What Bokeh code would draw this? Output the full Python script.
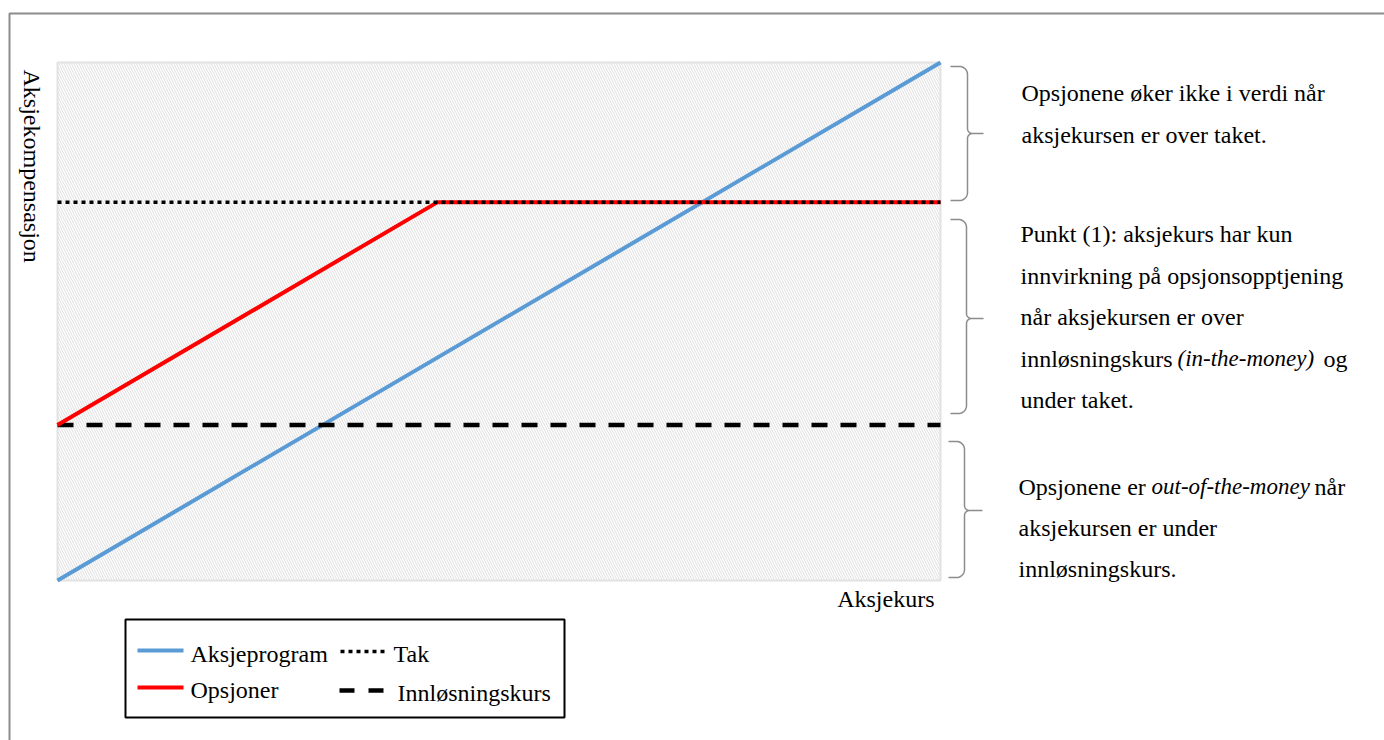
import math
import numpy as np
from bokeh.plotting import figure
from bokeh.models import Range1d
from bokeh.core.properties import value
from bokeh.embed import file_html
from bokeh.resources import INLINE

# ---------------- data ----------------
aksjekurs = [0, 100]
aksjeprogram = [0, 100]
opsjoner_kurs = [0, 43, 100]
opsjoner = [30, 73, 73]
tak = [73, 73]
innlosningskurs = [30, 30]

series_labels = ["Aksjeprogram", "Opsjoner", "Tak", "Innløsningskurs"]
x_label = "Aksjekurs"
y_label = "Aksjekompensasjon"

# ---------------- layout helpers (pixel -> data) ----------------
W, H = 1384, 740
PL, PR, PT, PB = 57, 940, 62, 580
SX = (PR - PL) / 100.0
SY = (PB - PT) / 100.0


def dx(px):
    return (px - PL) / SX


def dy(py):
    return (PB - py) / SY


SERIF = value("Liberation Serif")
FS_NOTE = value("24px")
FS_IT = value("23px")
FS_LAB = value("24px")

p = figure(width=W, height=H,
           x_range=Range1d(dx(0), dx(W)), y_range=Range1d(dy(H), dy(0)),
           x_axis_location=None, y_axis_location=None,
           toolbar_location=None, output_backend="svg",
           min_border=0, outline_line_color=None,
           background_fill_color="white", border_fill_color="white")
p.xgrid.visible = False
p.ygrid.visible = False

# outer frame
p.quad(left=[dx(9)], right=[dx(W + 20)], top=[dy(13)], bottom=[dy(H + 20)],
       fill_color=None, line_color="#8c8c8c", line_width=2)

# plot area with hatch
p.quad(left=[0], right=[100], bottom=[0], top=[100],
       fill_color="white", hatch_pattern="\\", hatch_color="#dedede",
       hatch_scale=5, hatch_weight=1, line_color="#e2e2e2", line_width=2)

# series
p.line(aksjekurs, aksjeprogram, line_color="#5b9bd5", line_width=4)
p.line(aksjekurs, innlosningskurs, line_color="black", line_width=4.5, line_dash="16 13")
p.line(opsjoner_kurs, opsjoner, line_color="#ff0000", line_width=4)
p.line(aksjekurs, tak, line_color="black", line_width=3.5, line_dash="4 4")


# braces
def brace(top, bottom, tip, xe, xm, xt, r=8, rt=5):
    t = np.linspace(0, math.pi / 2, 12)
    pts = [(xe, top)]
    pts += [(xm - r + r * math.sin(a), top + r * (1 - math.cos(a))) for a in t]
    pts += [(xm + rt * (1 - math.cos(a)), tip - rt + rt * math.sin(a)) for a in t]
    pts += [(xt, tip), (xm + rt, tip)]
    pts += [(xm + rt * (1 - math.cos(a)), tip + rt - rt * math.sin(a)) for a in t[::-1]]
    pts += [(xm - r + r * math.sin(a), bottom - r * (1 - math.cos(a))) for a in t[::-1]]
    pts += [(xe, bottom)]
    return [dx(x) for x, _ in pts], [dy(y) for _, y in pts]


bx, by = [], []
for (tp, bt, tip, xe, xm, xt) in [(66, 200, 133, 950, 967, 983),
                                  (219, 413, 318, 950, 966, 983),
                                  (441, 577, 510, 948, 964, 982)]:
    xs, ys = brace(tp, bt, tip, xe, xm, xt)
    bx.append(xs)
    by.append(ys)
p.multi_line(bx, by, line_color="#8c8c8c", line_width=1.5)

# annotation text (normal)
notes = [
    (1021, 92, "Opsjonene øker ikke i verdi når"),
    (1021, 134, "aksjekursen er over taket."),
    (1020, 233, "Punkt (1): aksjekurs har kun"),
    (1020, 275, "innvirkning på opsjonsopptjening"),
    (1020, 316, "når aksjekursen er over"),
    (1020, 358, "innløsningskurs"),
    (1323, 358, "og"),
    (1020, 399, "under taket."),
    (1018, 486, "Opsjonene er"),
    (1314, 486, "når"),
    (1018, 527, "aksjekursen er under"),
    (1018, 568, "innløsningskurs."),
]
p.text(x=[dx(a) for a, _, _ in notes], y=[dy(b) for _, b, _ in notes],
       text=[c for _, _, c in notes], text_font=SERIF, text_font_size=FS_NOTE,
       text_align="left", text_baseline="middle", text_color="black")

notes_it = [
    (1177, 358, "(in-the-money)"),
    (1151, 486, "out-of-the-money"),
]
p.text(x=[dx(a) for a, _, _ in notes_it], y=[dy(b) for _, b, _ in notes_it],
       text=[c for _, _, c in notes_it], text_font=SERIF, text_font_size=FS_IT,
       text_font_style="italic",
       text_align="left", text_baseline="middle", text_color="black")

# axis labels
p.text(x=[dx(31)], y=[dy(69)], text=[y_label], angle=-math.pi / 2,
       text_font=SERIF, text_font_size=FS_LAB,
       text_align="left", text_baseline="middle", text_color="black")
p.text(x=[dx(934)], y=[dy(598)], text=[x_label],
       text_font=SERIF, text_font_size=FS_LAB,
       text_align="right", text_baseline="middle", text_color="black")

# legend box
p.quad(left=[dx(125)], right=[dx(564)], top=[dy(619)], bottom=[dy(717)],
       fill_color="white", line_color="black", line_width=2)
p.line([dx(137), dx(183)], [dy(650), dy(650)], line_color="#5b9bd5", line_width=4)
p.line([dx(137), dx(183)], [dy(687), dy(687)], line_color="#ff0000", line_width=4)
p.line([dx(340), dx(386)], [dy(651), dy(651)], line_color="black", line_width=3.5, line_dash="4 4")
p.line([dx(339), dx(386)], [dy(690), dy(690)], line_color="black", line_width=4.5, line_dash="15 14")
leg = [(190, 653, series_labels[0]), (190, 689, series_labels[1]),
       (393, 653, series_labels[2]), (397, 692, series_labels[3])]
p.text(x=[dx(a) for a, _, _ in leg], y=[dy(b) for _, b, _ in leg],
       text=[c for _, _, c in leg], text_font=SERIF, text_font_size=FS_LAB,
       text_align="left", text_baseline="middle", text_color="black")

open("out.html", "w").write(file_html(p, INLINE))
